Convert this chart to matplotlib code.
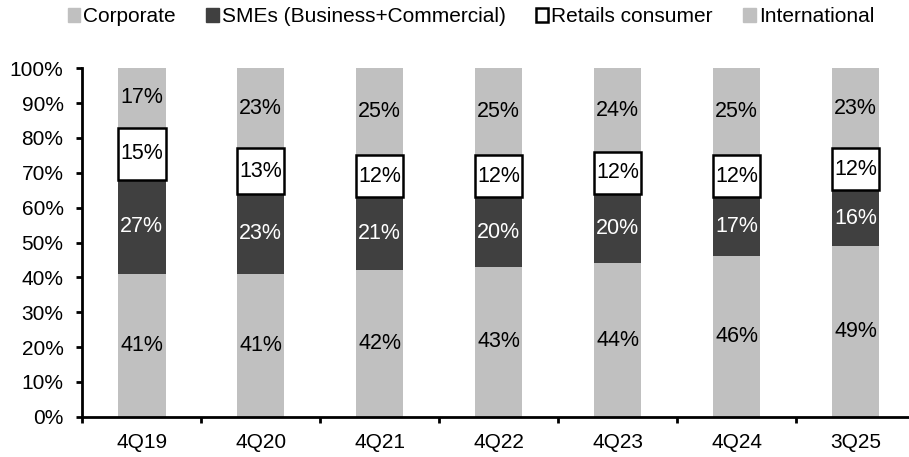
import matplotlib
matplotlib.use("Agg")
import matplotlib.pyplot as plt
from matplotlib.patches import Patch
import numpy as np

plt.rcParams['font.family'] = ['Liberation Sans', 'DejaVu Sans']

periodos = ["4Q19", "4Q20", "4Q21", "4Q22", "4Q23", "4Q24", "3Q25"]
corporate = [41, 41, 42, 43, 44, 46, 49]
smes = [27, 23, 21, 20, 20, 17, 16]
retail = [15, 13, 12, 12, 12, 12, 12]
international = [17, 23, 25, 25, 24, 25, 23]

gris = '#c0c0c0'
oscuro = '#404040'

fig = plt.figure(figsize=(9.09, 4.57), dpi=100)
ax = fig.add_axes([0.0905, 0.0882, 0.9095, 0.7623])

x = np.arange(len(periodos))
ancho = 0.4
corp = np.array(corporate)
sme = np.array(smes)
ret = np.array(retail)
intl = np.array(international)

b1 = ax.bar(x, corp, ancho, color=gris)
b2 = ax.bar(x, sme, ancho, bottom=corp, color=oscuro)
b3 = ax.bar(x, ret, ancho, bottom=corp + sme, color='white', edgecolor='black', linewidth=1.8, zorder=3)
b4 = ax.bar(x, intl, ancho, bottom=corp + sme + ret, color=gris)

# etiquetas dentro de cada segmento
for barras, colorTexto in [(b1, 'black'), (b2, 'white'), (b3, 'black'), (b4, 'black')]:
    for barra in barras:
        h = barra.get_height()
        ax.text(barra.get_x() + barra.get_width() / 2, barra.get_y() + h / 2, f"{h:.0f}%",
                ha='center', va='center', fontsize=15.5, color=colorTexto, zorder=4)

ax.set_xlim(-0.5, 6.45)
ax.set_ylim(0, 100)
ax.set_yticks(range(0, 101, 10))
ax.set_yticklabels([f"{v}%" for v in range(0, 101, 10)])
ax.set_xticks(x)
ax.set_xticklabels(periodos)
ax.set_xticks(np.arange(-0.5, 6, 1), minor=True)
ax.tick_params(axis='x', which='major', length=0, labelsize=15, pad=12)
ax.tick_params(axis='x', which='minor', length=4.5, width=2)
ax.tick_params(axis='y', length=4.5, width=2, labelsize=15, pad=9)
ax.spines['top'].set_visible(False)
ax.spines['right'].set_visible(False)
ax.spines['left'].set_linewidth(2)
ax.spines['bottom'].set_linewidth(2)

handles = [Patch(facecolor=gris, edgecolor=gris),
           Patch(facecolor=oscuro, edgecolor=oscuro),
           Patch(facecolor='white', edgecolor='black', linewidth=1.8),
           Patch(facecolor=gris, edgecolor=gris)]
nombres = ["Corporate", "SMEs (Business+Commercial)", "Retails consumer", "International"]
fig.legend(handles, nombres, loc='center', bbox_to_anchor=(0.518, 0.963), ncol=4, frameon=False,
           fontsize=15, handlelength=0.6, handleheight=0.6, handletextpad=0.15, columnspacing=1.45)

fig.savefig("out.png", dpi=100)
